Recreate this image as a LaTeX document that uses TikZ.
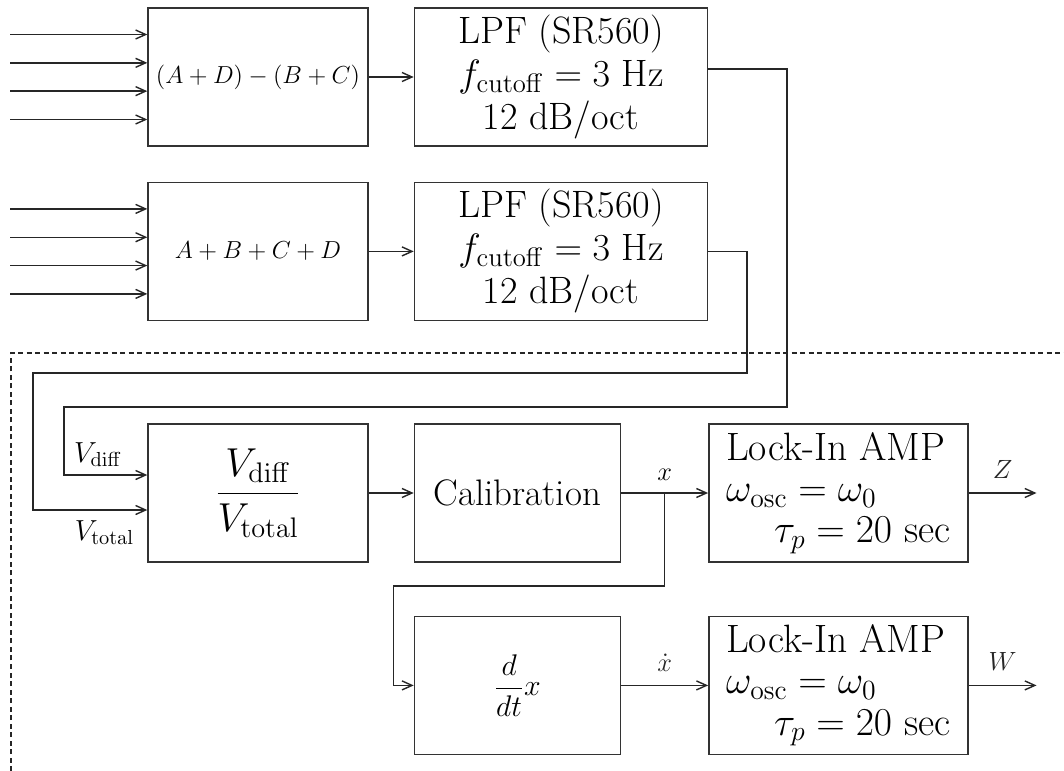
\RequirePackage{fix-cm}
\documentclass[tikz,border=0pt]{standalone}
\usepackage{amsmath}
\usetikzlibrary{positioning, calc, arrows.meta}

\begin{document}
\begin{tikzpicture}[
        node distance=0.7cm and 0.9cm,
        blk/.style={rectangle, draw=black!80, line width=0.8pt, inner sep=0pt, minimum height=2.76cm, align=center, font=\fontsize{21.7}{24.5}\selectfont},
        sumblk/.style={blk, minimum width=4.4cm, font=\fontsize{14}{17}\selectfont},
        lpfblk/.style={blk, minimum width=5.86cm},
        procblk/.style={blk, minimum width=4.12cm},
        lockblk/.style={blk, minimum width=5.18cm, align=left, font=\fontsize{22.5}{23.5}\selectfont},
        arrow/.style={-{Straight Barb[length=2mm, width=1.8mm]}, line width=0.8pt, black!85},
        lbl/.style={font=\fontsize{15}{18}\selectfont, inner sep=0pt},
        frame/.style={line width=0.6pt, black!85, dash pattern=on 0.1cm off 0.07cm},
    ]
    \useasboundingbox (0,0) rectangle (21.28,-15.42);

    % ===== Detector boundary (dashed) =====
    \draw[frame] (0.22,-15.42) |- (21.28,-7.06);

    % ===== Top: difference / sum of quadrants =====
    \node[sumblk] (sumdiff) at (5.16,-1.54) {$(A+D)-(B+C)$};
    \node[lpfblk, right=0.9cm of sumdiff] (lpfdiff)
        {LPF (SR560)\\$f_{\mathrm{cutoff}}=3$ Hz\\12 dB/oct};

    \node[sumblk, below=0.7cm of sumdiff] (sumall) {$A+B+C+D$};
    \node[lpfblk, right=0.9cm of sumall] (lpfsum)
        {LPF (SR560)\\$f_{\mathrm{cutoff}}=3$ Hz\\12 dB/oct};

    \foreach \dy [count=\i] in {0.85,0.283,-0.283,-0.85} {
        \coordinate (inD\i) at ($(sumdiff.west)+(-2.74,\dy)$);
        \coordinate (inS\i) at ($(sumall.west)+(-2.74,\dy)$);
        \draw[arrow] (inD\i) -- (inD\i -| sumdiff.west);
        \draw[arrow] (inS\i) -- (inS\i -| sumall.west);
    }

    \draw[arrow] (sumdiff) -- (lpfdiff);
    \draw[arrow] (sumall) -- (lpfsum);

    % ===== Bottom: normalisation and lock-in =====
    \node[sumblk, font=\fontsize{23}{27}\selectfont] (ratio) at (5.16,-9.86)
        {$\displaystyle\frac{V_{\mathrm{diff}}}{V_{\mathrm{total}}}$};
    \node[procblk, font=\fontsize{21}{24}\selectfont, right=0.9cm of ratio] (calib) {Calibration};
    \node[lockblk, right=1.74cm of calib] (lockZ)
        {Lock-In AMP\\$\omega_{\mathrm{osc}}=\omega_0$\\\hspace*{0.96cm}$\tau_p=20$ sec};

    \node[procblk, font=\fontsize{17}{20}\selectfont, below=1.06cm of calib] (deriv)
        {$\displaystyle\frac{d}{dt}x$};
    \node[lockblk, right=1.74cm of deriv] (lockW)
        {Lock-In AMP\\$\omega_{\mathrm{osc}}=\omega_0$\\\hspace*{0.96cm}$\tau_p=20$ sec};

    % ===== Filtered signals into the divider =====
    \coordinate (diffR) at (15.74,-8.14);
    \coordinate (diffL) at (1.28,-8.14);
    \coordinate (sumR) at (14.94,-7.46);
    \coordinate (sumL) at (0.66,-7.46);

    \draw[arrow] ($(lpfdiff.east)+(0,0.16)$) -| (diffR) -- (diffL) |- ($(ratio.west)+(0,0.36)$)
        coordinate (vdiffIn);
    \draw[arrow] (lpfsum.east) -| (sumR) -- (sumL) |- ($(ratio.west)+(0,-0.34)$)
        coordinate (vtotIn);

    \node[lbl, font=\fontsize{16.5}{19}\selectfont, anchor=south east] at ($(vdiffIn)+(-0.5,0.16)$) {$V_{\mathrm{diff}}$};
    \node[lbl, font=\fontsize{16.5}{19}\selectfont, anchor=north east] at ($(vtotIn)+(-0.26,-0.2)$) {$V_{\mathrm{total}}$};

    % ===== Calibration, derivative, lock-in =====
    \draw[arrow] (ratio) -- (calib);
    \coordinate (xsplit) at ($(calib.east)!0.5!(lockZ.west)$);
    \coordinate (xturn) at ($(xsplit)+(0,-1.86)$);
    \draw[arrow] (calib) -- (lockZ);
    \node[lbl, above=0.24cm of xsplit] (xlbl) {$x$};
    \draw[arrow] (xsplit) -- (xturn) -| ([xshift=-0.4cm]deriv.west) -- (deriv.west);

    \draw[arrow] (deriv) -- node[lbl, midway, above=0.26cm] {$\dot{x}$} (lockW);

    \coordinate[right=1.36cm of lockZ.east] (Zout);
    \coordinate[right=1.36cm of lockW.east] (Wout);
    \draw[arrow] (lockZ) -- node[lbl, midway, above=0.28cm] {$Z$} (Zout);
    \draw[arrow] (lockW) -- node[lbl, midway, above=0.28cm] {$W$} (Wout);

\end{tikzpicture}
\end{document}
